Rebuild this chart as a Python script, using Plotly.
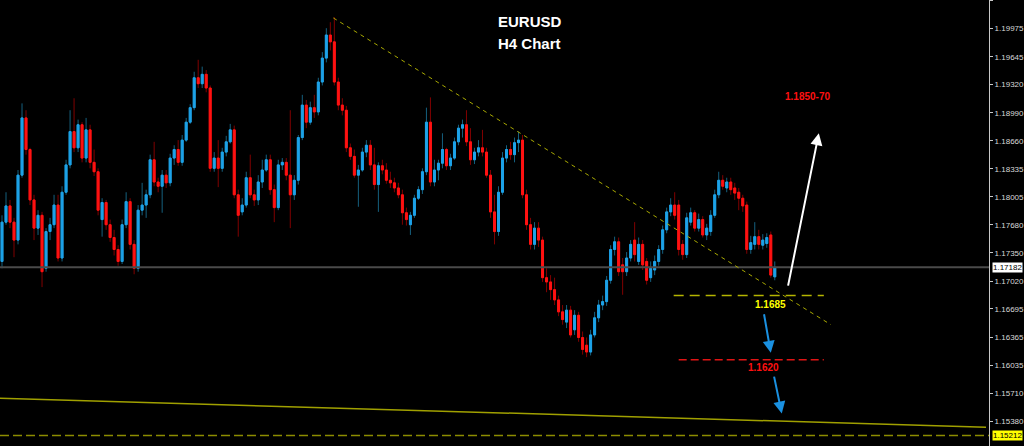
import plotly.graph_objects as go

# ---------------- data (EURUSD H4) ----------------
opens = [
    1.1725, 1.1771, 1.1790, 1.1771, 1.1750, 1.1826, 1.1893, 1.1856, 1.1797, 1.1764,
    1.1779, 1.1717, 1.1760, 1.1768, 1.1791, 1.1729, 1.1806, 1.1838, 1.1877, 1.1858,
    1.1885, 1.1846, 1.1879, 1.1841, 1.1830, 1.1774, 1.1794, 1.1768, 1.1753, 1.1739,
    1.1725, 1.1768, 1.1795, 1.1745, 1.1717, 1.1785, 1.1791, 1.1803, 1.1844, 1.1818,
    1.1813, 1.1826, 1.1817, 1.1846, 1.1856, 1.1841, 1.1867, 1.1888, 1.1905, 1.1940,
    1.1933, 1.1944, 1.1928, 1.1834, 1.1846, 1.1834, 1.1853, 1.1865, 1.1879, 1.1803,
    1.1783, 1.1791, 1.1823, 1.1803, 1.1797, 1.1818, 1.1832, 1.1844, 1.1809, 1.1788,
    1.1838, 1.1841, 1.1826, 1.1803, 1.1820, 1.1870, 1.1908, 1.1888, 1.1905, 1.1900,
    1.1935, 1.1963, 1.1990, 1.1982, 1.1935, 1.1908, 1.1902, 1.1858, 1.1848, 1.1826,
    1.1832, 1.1853, 1.1861, 1.1838, 1.1815, 1.1837, 1.1832, 1.1820, 1.1817, 1.1811,
    1.1803, 1.1782, 1.1768, 1.1779, 1.1799, 1.1809, 1.1830, 1.1888, 1.1818, 1.1832,
    1.1840, 1.1856, 1.1837, 1.1846, 1.1865, 1.1881, 1.1885, 1.1865, 1.1844, 1.1853,
    1.1858, 1.1853, 1.1826, 1.1783, 1.1760, 1.1806, 1.1846, 1.1856, 1.1850, 1.1864,
    1.1867, 1.1803, 1.1768, 1.1745, 1.1764, 1.1750, 1.1706, 1.1701, 1.1692, 1.1680,
    1.1666, 1.1654, 1.1668, 1.1645, 1.1662, 1.1636, 1.1627, 1.1619, 1.1639, 1.1659,
    1.1674, 1.1678, 1.1703, 1.1739, 1.1748, 1.1721, 1.1713, 1.1729, 1.1750, 1.1725,
    1.1745, 1.1725, 1.1706, 1.1715, 1.1725, 1.1739, 1.1762, 1.1783, 1.1791, 1.1791,
    1.1745, 1.1733, 1.1771, 1.1782, 1.1764, 1.1774, 1.1756, 1.1760, 1.1779, 1.1803,
    1.1820, 1.1811, 1.1818, 1.1811, 1.1806, 1.1799, 1.1791, 1.1739, 1.1745, 1.1754,
    1.1744, 1.1746, 1.1756, 1.1707,
]
highs = [
    1.1779, 1.1806, 1.1797, 1.1776, 1.1832, 1.1910, 1.1902, 1.1858, 1.1803, 1.1785,
    1.1783, 1.1764, 1.1776, 1.1803, 1.1803, 1.1813, 1.1844, 1.1902, 1.1916, 1.1891,
    1.1888, 1.1893, 1.1885, 1.1856, 1.1834, 1.1799, 1.1797, 1.1774, 1.1762, 1.1744,
    1.1774, 1.1806, 1.1799, 1.1750, 1.1791, 1.1817, 1.1809, 1.1850, 1.1865, 1.1823,
    1.1832, 1.1832, 1.1851, 1.1861, 1.1867, 1.1873, 1.1893, 1.1909, 1.1947, 1.1961,
    1.1953, 1.1949, 1.1931, 1.1853, 1.1867, 1.1858, 1.1872, 1.1886, 1.1884, 1.1809,
    1.1799, 1.1830, 1.1850, 1.1809, 1.1826, 1.1844, 1.1850, 1.1850, 1.1815, 1.1844,
    1.1846, 1.1846, 1.1902, 1.1826, 1.1873, 1.1920, 1.1914, 1.1912, 1.1920, 1.1940,
    1.1970, 1.1998, 1.2005, 1.2011, 1.1940, 1.1916, 1.1907, 1.1863, 1.1856, 1.1838,
    1.1858, 1.1867, 1.1867, 1.1858, 1.1841, 1.1844, 1.1840, 1.1830, 1.1823, 1.1817,
    1.1809, 1.1788, 1.1783, 1.1803, 1.1813, 1.1834, 1.1905, 1.1917, 1.1844, 1.1844,
    1.1875, 1.1858, 1.1851, 1.1870, 1.1885, 1.1891, 1.1902, 1.1881, 1.1858, 1.1867,
    1.1879, 1.1858, 1.1832, 1.1803, 1.1813, 1.1853, 1.1861, 1.1865, 1.1870, 1.1877,
    1.1873, 1.1809, 1.1776, 1.1771, 1.1771, 1.1754, 1.1717, 1.1709, 1.1706, 1.1685,
    1.1674, 1.1674, 1.1673, 1.1668, 1.1666, 1.1643, 1.1636, 1.1645, 1.1666, 1.1680,
    1.1685, 1.1708, 1.1744, 1.1754, 1.1753, 1.1729, 1.1736, 1.1750, 1.1771, 1.1753,
    1.1750, 1.1729, 1.1725, 1.1732, 1.1744, 1.1767, 1.1788, 1.1799, 1.1806, 1.1797,
    1.1750, 1.1782, 1.1788, 1.1785, 1.1781, 1.1778, 1.1769, 1.1785, 1.1809, 1.1830,
    1.1826, 1.1823, 1.1823, 1.1817, 1.1811, 1.1803, 1.1795, 1.1755, 1.1771, 1.1762,
    1.1757, 1.1758, 1.1760, 1.1725,
]
lows = [
    1.1717, 1.1768, 1.1764, 1.1730, 1.1745, 1.1823, 1.1850, 1.1791, 1.1750, 1.1756,
    1.1695, 1.1713, 1.1750, 1.1764, 1.1725, 1.1725, 1.1803, 1.1834, 1.1853, 1.1853,
    1.1841, 1.1841, 1.1834, 1.1825, 1.1779, 1.1754, 1.1762, 1.1748, 1.1732, 1.1720,
    1.1722, 1.1764, 1.1739, 1.1710, 1.1713, 1.1779, 1.1776, 1.1799, 1.1813, 1.1806,
    1.1782, 1.1811, 1.1813, 1.1838, 1.1837, 1.1837, 1.1865, 1.1886, 1.1902, 1.1928,
    1.1928, 1.1923, 1.1830, 1.1830, 1.1812, 1.1830, 1.1848, 1.1863, 1.1799, 1.1754,
    1.1779, 1.1788, 1.1799, 1.1790, 1.1791, 1.1811, 1.1830, 1.1803, 1.1771, 1.1785,
    1.1832, 1.1820, 1.1764, 1.1797, 1.1815, 1.1867, 1.1881, 1.1885, 1.1893, 1.1896,
    1.1931, 1.1958, 1.1972, 1.1931, 1.1902, 1.1896, 1.1853, 1.1844, 1.1823, 1.1789,
    1.1830, 1.1847, 1.1832, 1.1809, 1.1783, 1.1827, 1.1816, 1.1811, 1.1806, 1.1799,
    1.1768, 1.1767, 1.1756, 1.1776, 1.1797, 1.1804, 1.1826, 1.1813, 1.1813, 1.1820,
    1.1834, 1.1832, 1.1832, 1.1844, 1.1861, 1.1870, 1.1860, 1.1838, 1.1839, 1.1848,
    1.1848, 1.1823, 1.1776, 1.1745, 1.1755, 1.1803, 1.1841, 1.1844, 1.1841, 1.1853,
    1.1799, 1.1762, 1.1739, 1.1739, 1.1742, 1.1701, 1.1689, 1.1680, 1.1674, 1.1661,
    1.1651, 1.1647, 1.1636, 1.1639, 1.1631, 1.1616, 1.1613, 1.1615, 1.1636, 1.1654,
    1.1668, 1.1673, 1.1699, 1.1732, 1.1708, 1.1686, 1.1708, 1.1725, 1.1725, 1.1721,
    1.1715, 1.1698, 1.1701, 1.1709, 1.1720, 1.1734, 1.1758, 1.1778, 1.1774, 1.1732,
    1.1727, 1.1729, 1.1767, 1.1760, 1.1760, 1.1753, 1.1750, 1.1755, 1.1776, 1.1799,
    1.1809, 1.1806, 1.1803, 1.1797, 1.1785, 1.1783, 1.1734, 1.1734, 1.1739, 1.1739,
    1.1739, 1.1741, 1.1706, 1.1703,
]
closes = [
    1.1771, 1.1790, 1.1771, 1.1750, 1.1826, 1.1893, 1.1856, 1.1797, 1.1764, 1.1779,
    1.1713, 1.1760, 1.1768, 1.1791, 1.1729, 1.1806, 1.1838, 1.1877, 1.1858, 1.1885,
    1.1846, 1.1879, 1.1841, 1.1830, 1.1785, 1.1794, 1.1768, 1.1753, 1.1739, 1.1725,
    1.1768, 1.1795, 1.1745, 1.1717, 1.1785, 1.1791, 1.1803, 1.1844, 1.1818, 1.1813,
    1.1826, 1.1817, 1.1846, 1.1856, 1.1841, 1.1867, 1.1888, 1.1905, 1.1940, 1.1933,
    1.1944, 1.1928, 1.1834, 1.1846, 1.1834, 1.1853, 1.1865, 1.1879, 1.1803, 1.1779,
    1.1791, 1.1823, 1.1803, 1.1797, 1.1818, 1.1832, 1.1844, 1.1809, 1.1788, 1.1838,
    1.1841, 1.1826, 1.1803, 1.1820, 1.1870, 1.1908, 1.1888, 1.1905, 1.1900, 1.1935,
    1.1963, 1.1990, 1.1982, 1.1935, 1.1908, 1.1902, 1.1858, 1.1848, 1.1826, 1.1832,
    1.1853, 1.1861, 1.1838, 1.1815, 1.1837, 1.1832, 1.1820, 1.1817, 1.1811, 1.1803,
    1.1782, 1.1774, 1.1779, 1.1799, 1.1809, 1.1830, 1.1888, 1.1818, 1.1832, 1.1840,
    1.1856, 1.1837, 1.1846, 1.1865, 1.1881, 1.1885, 1.1865, 1.1844, 1.1853, 1.1858,
    1.1853, 1.1826, 1.1783, 1.1760, 1.1806, 1.1846, 1.1856, 1.1850, 1.1864, 1.1867,
    1.1803, 1.1768, 1.1745, 1.1764, 1.1750, 1.1706, 1.1701, 1.1692, 1.1680, 1.1666,
    1.1657, 1.1668, 1.1639, 1.1662, 1.1636, 1.1622, 1.1619, 1.1639, 1.1659, 1.1674,
    1.1678, 1.1703, 1.1739, 1.1748, 1.1713, 1.1713, 1.1729, 1.1745, 1.1733, 1.1745,
    1.1721, 1.1703, 1.1717, 1.1725, 1.1739, 1.1762, 1.1783, 1.1791, 1.1779, 1.1739,
    1.1733, 1.1776, 1.1782, 1.1764, 1.1774, 1.1756, 1.1764, 1.1779, 1.1803, 1.1820,
    1.1813, 1.1818, 1.1809, 1.1805, 1.1799, 1.1790, 1.1739, 1.1747, 1.1754, 1.1745,
    1.1750, 1.1753, 1.1709, 1.1718,
]

price_ticks = [1.20300, 1.19975, 1.19645, 1.19320, 1.18990, 1.18660, 1.18335, 1.18005,
               1.17680, 1.17350, 1.17020, 1.16695, 1.16365, 1.16035, 1.15710, 1.15380]
current_price = 1.17182
bottom_level = 1.15212

# analysis drawings: (bar index, price)
trend_line = [(82.75, 1.2010), (207.0, 1.1651)]
support_solid = [(-0.5, 1.1565), (245.75, 1.1531)]
level_1685 = {"x": (167.75, 205.25), "price": 1.1685, "label": "1.1685"}
level_1620 = {"x": (169.0, 205.25), "price": 1.1610, "label": "1.1620"}
target_text = {"x": 201.25, "price": 1.1918, "label": "1.1850-70"}
up_arrow = [(196.25, 1.1695), (204.0, 1.1875)]
down_arrows = [[(190.25, 1.1665), (192.0, 1.1618)], [(192.75, 1.1592), (194.75, 1.1547)]]

# ---------------- figure ----------------
idx = list(range(len(closes)))
body_hi = [max(o, c) for o, c in zip(opens, closes)]
body_lo = [min(o, c) for o, c in zip(opens, closes)]

UP_BODY, UP_WICK = "#1da2e8", "#15607f"
DN_BODY, DN_WICK = "#ff1212", "#800000"

fig = go.Figure()
fig.add_trace(go.Candlestick(
    x=idx, open=opens, high=highs, low=lows, close=closes,
    increasing=dict(line=dict(color=UP_WICK, width=1), fillcolor=UP_WICK),
    decreasing=dict(line=dict(color=DN_WICK, width=1), fillcolor=DN_WICK),
    whiskerwidth=0, hoverinfo="skip", showlegend=False))
fig.add_trace(go.Candlestick(
    x=idx, open=opens, high=body_hi, low=body_lo, close=closes,
    increasing=dict(line=dict(color=UP_BODY, width=1), fillcolor=UP_BODY),
    decreasing=dict(line=dict(color=DN_BODY, width=1), fillcolor=DN_BODY),
    whiskerwidth=0, hoverinfo="skip", showlegend=False))

shapes = [
    dict(type="line", xref="paper", x0=0, x1=1, yref="y", y0=current_price, y1=current_price,
         line=dict(color="#4a4a4a", width=2)),
    dict(type="line", x0=trend_line[0][0], y0=trend_line[0][1], x1=trend_line[1][0], y1=trend_line[1][1],
         line=dict(color="#a8a800", width=1, dash="4px,4px")),
    dict(type="line", x0=support_solid[0][0], y0=support_solid[0][1], x1=support_solid[1][0], y1=support_solid[1][1],
         line=dict(color="#a0a000", width=1.5)),
    dict(type="line", xref="paper", x0=0, x1=1, yref="y", y0=bottom_level, y1=bottom_level,
         line=dict(color="#8c8c00", width=1.5, dash="9px,4px")),
    dict(type="line", x0=level_1685["x"][0], x1=level_1685["x"][1], y0=level_1685["price"], y1=level_1685["price"],
         line=dict(color="#b4b400", width=1.5, dash="10px,6px")),
    dict(type="line", x0=level_1620["x"][0], x1=level_1620["x"][1], y0=level_1620["price"], y1=level_1620["price"],
         line=dict(color="#e01414", width=1.5, dash="8px,4px")),
]

ann = [
    dict(xref="paper", yref="paper", x=0.5354, y=0.951, xanchor="center", yanchor="middle",
         text="<b>EURUSD</b>", showarrow=False,
         font=dict(family="Liberation Sans", size=15, color="white")),
    dict(xref="paper", yref="paper", x=0.5354, y=0.903, xanchor="center", yanchor="middle",
         text="<b>H4 Chart</b>", showarrow=False,
         font=dict(family="Liberation Sans", size=15, color="white")),
    dict(x=target_text["x"], y=target_text["price"], xanchor="center", yanchor="middle",
         text="<b>%s</b>" % target_text["label"], showarrow=False,
         font=dict(family="Liberation Sans", size=10, color="#ff1010")),
    dict(x=(level_1685["x"][0] + level_1685["x"][1]) / 2 + 5.5, y=level_1685["price"], yshift=-9,
         xanchor="center", yanchor="middle",
         text="<b>%s</b>" % level_1685["label"], showarrow=False,
         font=dict(family="Liberation Sans", size=10, color="#ffff00")),
    dict(x=(level_1620["x"][0] + level_1620["x"][1]) / 2 + 3, y=level_1620["price"], yshift=-8,
         xanchor="center", yanchor="middle",
         text="<b>%s</b>" % level_1620["label"], showarrow=False,
         font=dict(family="Liberation Sans", size=10, color="#ff1010")),
    dict(x=up_arrow[1][0], y=up_arrow[1][1], ax=up_arrow[0][0], ay=up_arrow[0][1], axref="x", ayref="y",
         text="", showarrow=True, arrowhead=2, arrowsize=1.2, arrowwidth=2, arrowcolor="white"),
    dict(xref="paper", x=1, xanchor="left", xshift=3, yref="y", y=current_price, yanchor="middle",
         text="1.17182", showarrow=False, bgcolor="white", borderpad=0,
         font=dict(family="Liberation Sans", size=8, color="black")),
    dict(xref="paper", x=1, xanchor="left", xshift=3, yref="y", y=bottom_level, yanchor="middle",
         text="1.15212", showarrow=False, bgcolor="#ffff00", borderpad=0,
         font=dict(family="Liberation Sans", size=8, color="black")),
]
for a in down_arrows:
    ann.append(dict(x=a[1][0], y=a[1][1], ax=a[0][0], ay=a[0][1], axref="x", ayref="y",
                    text="", showarrow=True, arrowhead=2, arrowsize=1.2, arrowwidth=2, arrowcolor="#1a90e0"))

fig.update_layout(
    width=1024, height=446,
    margin=dict(l=0, r=35, t=0, b=0),
    paper_bgcolor="black", plot_bgcolor="black",
    shapes=shapes, annotations=ann,
    showlegend=False, hovermode=False,
    xaxis=dict(visible=False, range=[-0.5, 246.5], rangeslider=dict(visible=False), fixedrange=True),
    yaxis=dict(side="right", range=[1.1509, 1.2031], tickvals=price_ticks,
               ticktext=["%.5f" % v for v in price_ticks],
               ticks="outside", ticklen=3, tickcolor="#c8c8c8",
               showline=True, linecolor="#c8c8c8", linewidth=1,
               showgrid=False, zeroline=False,
               tickfont=dict(family="Liberation Sans", size=8, color="#d8d8d8")),
)

fig.write_html(
    "out.html",
    config={"displayModeBar": False},
    post_script="document.body.style.margin='0';document.body.style.background='black';",
)
